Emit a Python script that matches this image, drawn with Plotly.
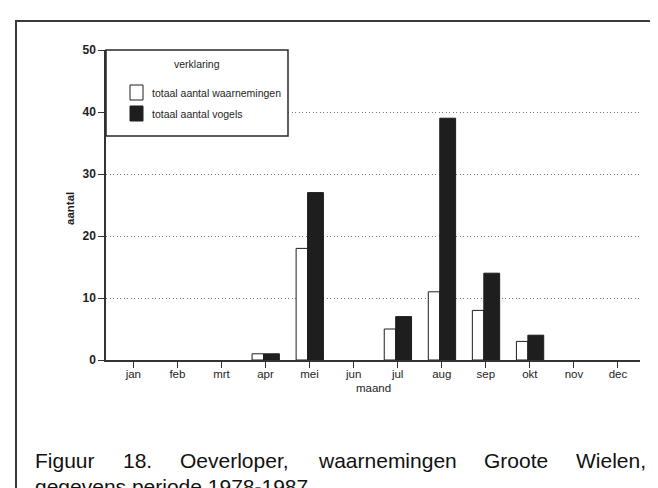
import plotly.graph_objects as go

# ---- data ----
months = ["jan", "feb", "mrt", "apr", "mei", "jun", "jul", "aug", "sep", "okt", "nov", "dec"]
waarnemingen = [0, 0, 0, 1, 18, 0, 5, 11, 8, 3, 0, 0]   # totaal aantal waarnemingen (white)
vogels = [0, 0, 0, 1, 27, 0, 7, 39, 14, 4, 0, 0]        # totaal aantal vogels (black)
y_ticks = [0, 10, 20, 30, 40, 50]
series_names = ["totaal aantal waarnemingen", "totaal aantal vogels"]
legend_title = "verklaring"
x_title = "maand"
y_title = "aantal"
caption_line1 = ["Figuur", "18.", "Oeverloper,", "waarnemingen", "Groote", "Wielen,"]
caption_line2 = "gegevens periode 1978-1987"

# ---- layout geometry (pixels) ----
W, H = 658, 488
L, R, T, B = 98, 632, 42, 352
FONT = "Liberation Sans, Arial, sans-serif"
INK = "#1e1e1e"


def px(x):
    return (x - L) / (R - L)


def py(y):
    return (B - y) / (B - T)


fig = go.Figure()
fig.add_trace(go.Bar(
    x=months, y=waarnemingen, name=series_names[0],
    offset=-0.305, width=0.26,
    marker=dict(color="white",
                line=dict(color=INK, width=[1 if v else 0 for v in waarnemingen])),
    showlegend=False,
))
fig.add_trace(go.Bar(
    x=months, y=vogels, name=series_names[1],
    offset=-0.045, width=0.36,
    marker=dict(color=INK,
                line=dict(color=INK, width=[1 if v else 0 for v in vogels])),
    showlegend=False,
))

fig.update_layout(
    width=W, height=H,
    margin=dict(l=L, r=W - R, t=T, b=H - B, pad=0),
    paper_bgcolor="white", plot_bgcolor="white",
    barmode="overlay",
    font=dict(family=FONT, color=INK, size=11),
)
fig.update_xaxes(
    type="category", categoryorder="array", categoryarray=months,
    range=[-0.62, 11.5],
    showline=True, linecolor="#333", linewidth=1.5,
    ticks="outside", ticklen=6, tickwidth=1.3, tickcolor="#333",
    tickfont=dict(size=11.5, family=FONT, color=INK),
    ticklabelstandoff=-4,
    showgrid=False, zeroline=False,
)
fig.update_yaxes(
    range=[0, 50], tickvals=y_ticks, ticktext=[str(v) for v in y_ticks],
    showline=True, linecolor="#333", linewidth=1.5,
    ticks="outside", ticklen=6, tickwidth=1.3, tickcolor="#333",
    tickfont=dict(size=12, family=FONT, color=INK, weight="bold"),
    showgrid=True, gridcolor="#7a7a7a", gridwidth=1, griddash="1px,2.5px",
    zeroline=False,
)

shapes = []
annotations = []

# outer frame (extends past right and bottom edges like the scan)
shapes.append(dict(type="rect", xref="paper", yref="paper",
                   x0=px(8), x1=px(W + 20), y0=py(13), y1=py(H + 20),
                   line=dict(color="#3a3a3a", width=2), fillcolor="rgba(0,0,0,0)",
                   layer="above"))

# legend box
LB_L, LB_R, LB_T, LB_B = L, 280, T, 128
shapes.append(dict(type="rect", xref="paper", yref="paper",
                   x0=px(LB_L), x1=px(LB_R), y0=py(LB_T), y1=py(LB_B),
                   line=dict(color="#2a2a2a", width=1.5), fillcolor="white",
                   layer="above"))
# legend swatches
SW_L, SW_R = L + 24, L + 37
shapes.append(dict(type="rect", xref="paper", yref="paper",
                   x0=px(SW_L), x1=px(SW_R), y0=py(77), y1=py(92),
                   line=dict(color=INK, width=1), fillcolor="white", layer="above"))
shapes.append(dict(type="rect", xref="paper", yref="paper",
                   x0=px(SW_L), x1=px(SW_R), y0=py(98), y1=py(113),
                   line=dict(color=INK, width=1), fillcolor=INK, layer="above"))

LEG_FONT = dict(size=10.5, family=FONT, color=INK)
annotations.append(dict(text=legend_title, xref="paper", yref="paper",
                        x=px((LB_L + LB_R) / 2), y=py(56), xanchor="center", yanchor="middle",
                        showarrow=False, font=LEG_FONT))
annotations.append(dict(text=series_names[0], xref="paper", yref="paper",
                        x=px(L + 44), y=py(84.5), xanchor="left", yanchor="middle",
                        showarrow=False, font=LEG_FONT))
annotations.append(dict(text=series_names[1], xref="paper", yref="paper",
                        x=px(L + 44), y=py(105.5), xanchor="left", yanchor="middle",
                        showarrow=False, font=LEG_FONT))

# axis titles
annotations.append(dict(text=x_title, xref="paper", yref="paper",
                        x=px((L + R) / 2), y=py(B + 28), xanchor="center", yanchor="middle",
                        showarrow=False, font=dict(size=11.5, family=FONT, color=INK)))
annotations.append(dict(text=y_title, xref="paper", yref="paper",
                        x=px(L - 36), y=py((T + B) / 2 + 4), xanchor="center", yanchor="middle",
                        textangle=-90, showarrow=False,
                        font=dict(size=11.5, family=FONT, color=INK, weight="bold")))

# caption, justified line 1
CW = {"F": .611, "i": .222, "g": .556, "u": .556, "r": .333, "1": .556, "8": .556,
      ".": .278, "O": .778, "e": .556, "v": .5, "l": .222, "o": .556, "p": .556,
      ",": .278, "w": .722, "a": .556, "n": .556, "m": .833, "G": .778, "t": .278,
      "W": .944}
CAP = 21
widths = [sum(CW.get(c, .556) for c in w) * CAP for w in caption_line1]
x_left, x_right = 25, 636
gap = (x_right - x_left - sum(widths)) / (len(caption_line1) - 1)
xpos = x_left
for word, wd in zip(caption_line1, widths):
    annotations.append(dict(text=word, xref="paper", yref="paper",
                            x=px(xpos), y=py(452), xanchor="left", yanchor="middle",
                            showarrow=False, font=dict(size=CAP, family=FONT, color="#111")))
    xpos += wd + gap
annotations.append(dict(text=caption_line2, xref="paper", yref="paper",
                        x=px(x_left), y=py(478), xanchor="left", yanchor="middle",
                        showarrow=False, font=dict(size=CAP, family=FONT, color="#111")))

fig.update_layout(shapes=shapes, annotations=annotations)
fig.write_html("out.html")
